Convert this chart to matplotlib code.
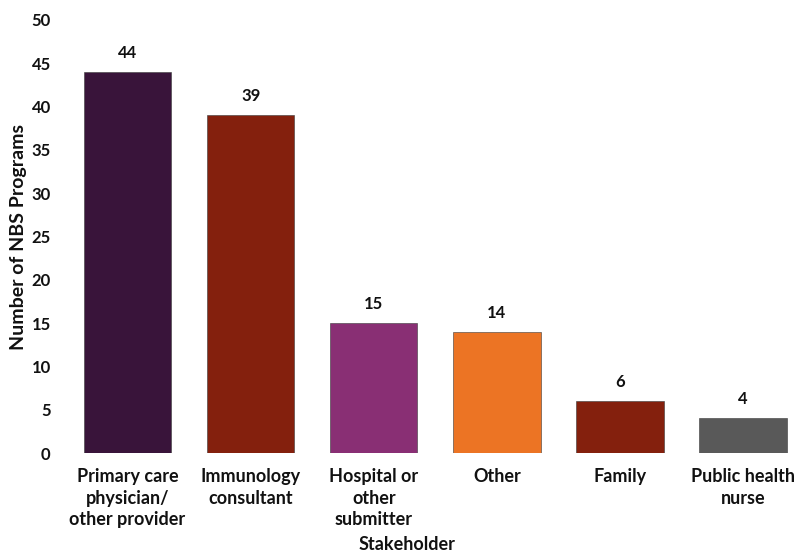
import matplotlib
matplotlib.use("Agg")
import matplotlib.pyplot as plt

plt.rcParams["font.family"] = ["Lato", "DejaVu Sans"]
plt.rcParams["font.weight"] = "bold"

categories = ["Primary care\nphysician/\nother provider", "Immunology\nconsultant",
              "Hospital or\nother\nsubmitter", "Other", "Family", "Public health\nnurse"]
values = [44, 39, 15, 14, 6, 4]
colors = ["#39143A", "#84200D", "#892F74", "#EC7424", "#84200D", "#595959"]

fig = plt.figure(figsize=(7.96, 5.56), dpi=100)
ax = fig.add_axes([66 / 796, 1 - 453 / 556, 730 / 796, 433 / 556])

x = range(len(values))
bars = ax.bar(x, values, width=0.71, color=colors, edgecolor="#3a3a3a", linewidth=0.4)
for b, v in zip(bars, values):
    ax.text(b.get_x() + b.get_width() / 2, v + 1.3, str(v), ha="center", va="bottom",
            fontsize=12, fontweight="bold", color="#111111")

ax.set_xlim(-0.5, 5.43)
ax.set_ylim(0, 50)
ax.set_yticks(range(0, 51, 5))
ax.set_xticks(list(x))
ax.set_xticklabels(categories, fontsize=13, fontweight="bold", color="#111111",
                   va="top", linespacing=1.32)
ax.tick_params(axis="both", length=0)
ax.tick_params(axis="y", labelsize=12, labelcolor="#111111", pad=11)
ax.tick_params(axis="x", pad=11)
for s in ax.spines.values():
    s.set_visible(False)

ax.set_ylabel("Number of NBS Programs", fontsize=14, fontweight="bold", color="#111111")
ax.yaxis.set_label_coords((27 - 66) / 730, 0.5)
fig.text(407 / 796, 1 - 545 / 556, "Stakeholder", ha="center", va="center",
         fontsize=13, fontweight="bold", color="#111111")

fig.savefig("out.png", dpi=100)
